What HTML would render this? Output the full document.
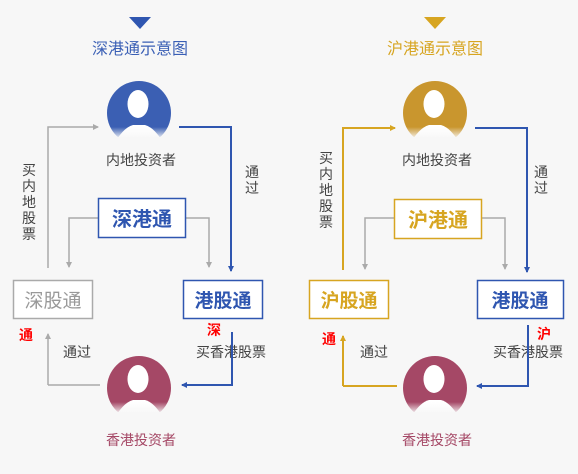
<!DOCTYPE html>
<html><head><meta charset="utf-8"><style>
html,body{margin:0;padding:0;background:#f7f7f7;}
svg{display:block;}
text{font-family:"Liberation Sans","Noto Sans CJK SC",sans-serif;}
</style></head><body>
<svg width="578" height="474" viewBox="0 0 578 474" xmlns="http://www.w3.org/2000/svg">
<defs>
<linearGradient id="fade" x1="0" y1="0" x2="0" y2="1">
<stop offset="0" stop-color="#f7f7f7" stop-opacity="0"/>
<stop offset="1" stop-color="#f7f7f7" stop-opacity="1"/>
</linearGradient>
<g id="av">
<circle cx="0" cy="0" r="32"/>
<path d="M-22,26 Q-14,14 -6,12 L6,12 Q14,14 22,26 L22,30 L-22,30 Z" fill="#fff"/>
<ellipse cx="-1" cy="-9" rx="10.5" ry="14" fill="#fff"/>
<rect x="-34" y="14" width="68" height="12" fill="url(#fade)"/>
<rect x="-34" y="24" width="68" height="12" fill="#f7f7f7"/>
</g>
<marker id="ag" markerWidth="6" markerHeight="6" refX="5" refY="3" orient="auto" markerUnits="userSpaceOnUse"><path d="M0,0 L6,3 L0,6 Z" fill="#aaa"/></marker>
<marker id="ab" markerWidth="6" markerHeight="6" refX="5" refY="3" orient="auto" markerUnits="userSpaceOnUse"><path d="M0,0 L6,3 L0,6 Z" fill="#2f56b0"/></marker>
<marker id="ay" markerWidth="6" markerHeight="6" refX="5" refY="3" orient="auto" markerUnits="userSpaceOnUse"><path d="M0,0 L6,3 L0,6 Z" fill="#d7a521"/></marker>
</defs>

<!-- LEFT -->
<path d="M129,17 L151,17 L140,29 Z" fill="#2f56b0"/>
<text x="140" y="54" font-size="16" fill="#3a5fb5" text-anchor="middle">深港通示意图</text>
<use href="#av" x="139" y="113" fill="#3b5fb3"/>
<text x="141" y="165" font-size="14" fill="#444" text-anchor="middle">内地投资者</text>
<path d="M48,268 L48,127 L98,127" fill="none" stroke="#aaa" stroke-width="1.5" marker-end="url(#ag)"/>
<path d="M179,127 L231,127 L231,271" fill="none" stroke="#2f56b0" stroke-width="2" marker-end="url(#ab)"/>
<g font-size="14" fill="#444" text-anchor="middle">
<text x="29" y="175">买</text><text x="29" y="191">内</text><text x="29" y="207">地</text><text x="29" y="223">股</text><text x="29" y="239">票</text>
<text x="252" y="177">通</text><text x="252" y="193">过</text>
<text x="77" y="357">通过</text>
<text x="231" y="357">买香港股票</text>
</g>
<path d="M98,218 L69,218 L69,267" fill="none" stroke="#aaa" stroke-width="1.5" marker-end="url(#ag)"/>
<path d="M185,218 L209,218 L209,267" fill="none" stroke="#aaa" stroke-width="1.5" marker-end="url(#ag)"/>
<rect x="98.5" y="198.5" width="87" height="39" fill="#fff" stroke="#2f56b0" stroke-width="1.5"/>
<text x="142" y="226" font-size="20" font-weight="bold" fill="#2f56b0" text-anchor="middle">深港通</text>
<rect x="13.5" y="280.5" width="79" height="38" fill="#fff" stroke="#aaa" stroke-width="1.5"/>
<text x="53" y="307" font-size="19" fill="#999" text-anchor="middle">深股通</text>
<rect x="183.5" y="280.5" width="79" height="38" fill="#fff" stroke="#2f56b0" stroke-width="1.5"/>
<text x="223" y="307" font-size="19" font-weight="bold" fill="#2f56b0" text-anchor="middle">港股通</text>
<text x="26" y="340" font-size="14" font-weight="bold" fill="#f00" text-anchor="middle">通</text>
<text x="214" y="335" font-size="14" font-weight="bold" fill="#f00" text-anchor="middle">深</text>
<path d="M48,385 L100,385" fill="none" stroke="#aaa" stroke-width="1.5"/>
<path d="M48,385 L48,334" fill="none" stroke="#aaa" stroke-width="1.5" marker-end="url(#ag)"/>
<path d="M232,332 L232,385 L182,385" fill="none" stroke="#2f56b0" stroke-width="2" marker-end="url(#ab)"/>
<use href="#av" x="139" y="388" fill="#a54866"/>
<text x="141" y="445" font-size="14" fill="#a54866" text-anchor="middle">香港投资者</text>

<!-- RIGHT -->
<path d="M424,17 L446,17 L435,29 Z" fill="#d7a521"/>
<text x="435" y="54" font-size="16" fill="#d7a521" text-anchor="middle">沪港通示意图</text>
<use href="#av" x="435" y="113" fill="#c9962e"/>
<text x="437" y="165" font-size="14" fill="#444" text-anchor="middle">内地投资者</text>
<path d="M343,270 L343,128 L395,128" fill="none" stroke="#d7a521" stroke-width="2" marker-end="url(#ay)"/>
<path d="M475,128 L527,128 L527,272" fill="none" stroke="#2f56b0" stroke-width="2" marker-end="url(#ab)"/>
<g font-size="14" fill="#444" text-anchor="middle">
<text x="326" y="163">买</text><text x="326" y="179">内</text><text x="326" y="195">地</text><text x="326" y="211">股</text><text x="326" y="227">票</text>
<text x="541" y="177">通</text><text x="541" y="193">过</text>
<text x="374" y="357">通过</text>
<text x="528" y="357">买香港股票</text>
</g>
<path d="M394,218 L365,218 L365,269" fill="none" stroke="#aaa" stroke-width="1.5" marker-end="url(#ag)"/>
<path d="M481,218 L505,218 L505,269" fill="none" stroke="#aaa" stroke-width="1.5" marker-end="url(#ag)"/>
<rect x="394.5" y="199.5" width="87" height="39" fill="#fff" stroke="#d7a521" stroke-width="1.5"/>
<text x="438" y="227" font-size="20" font-weight="bold" fill="#d7a521" text-anchor="middle">沪港通</text>
<rect x="309.5" y="280.5" width="79" height="38" fill="#fff" stroke="#d7a521" stroke-width="1.5"/>
<text x="349" y="307" font-size="19" font-weight="bold" fill="#d7a521" text-anchor="middle">沪股通</text>
<rect x="477.5" y="280.5" width="86" height="38" fill="#fff" stroke="#2f56b0" stroke-width="1.5"/>
<text x="520" y="307" font-size="19" font-weight="bold" fill="#2f56b0" text-anchor="middle">港股通</text>
<text x="329" y="344" font-size="14" font-weight="bold" fill="#f00" text-anchor="middle">通</text>
<text x="544" y="339" font-size="14" font-weight="bold" fill="#f00" text-anchor="middle">沪</text>
<path d="M343,386 L397,386" fill="none" stroke="#d7a521" stroke-width="2"/>
<path d="M343,386 L343,336" fill="none" stroke="#d7a521" stroke-width="2" marker-end="url(#ay)"/>
<path d="M528,325 L528,386 L477,386" fill="none" stroke="#2f56b0" stroke-width="2" marker-end="url(#ab)"/>
<use href="#av" x="435" y="388" fill="#a54866"/>
<text x="437" y="445" font-size="14" fill="#a54866" text-anchor="middle">香港投资者</text>
</svg>
</body></html>
